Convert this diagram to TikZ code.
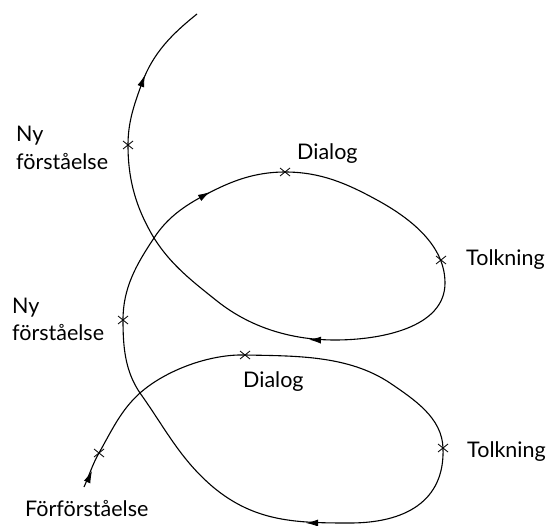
\documentclass[tikz,border=0pt]{standalone}
\usepackage{fontspec}
\setmainfont{Lato}
\usetikzlibrary{arrows.meta}
\begin{document}
\begin{tikzpicture}[x=1pt,y=-1pt,
  curve/.style={line width=1.1pt, line join=round},
  arr/.style={line width=0.8pt, -{Latex[length=12pt,width=7pt]}},
  lbl/.style={font=\fontsize{21.5}{26}\selectfont, inner sep=0pt, anchor=base west},
  xm/.pic={\draw[line width=0.8pt] (-5,-4)--(5,4) (-5,4)--(5,-4);}]
\useasboundingbox (0,0) rectangle (551,526);
% knots of the spiral
\coordinate (k0) at (84,487);
\coordinate (xa) at (99,453);
\coordinate (c1) at (140,393);
\coordinate (xd1) at (245,355);
\coordinate (k4) at (390,383);
\coordinate (xt1) at (443,448);
\coordinate (b1) at (350,523);
\coordinate (k7) at (213,487);
\coordinate (xn1) at (123,320);
\coordinate (c2) at (154,238);
\coordinate (k11) at (205,195);
\coordinate (xd2) at (285,172);
\coordinate (k13) at (377,200);
\coordinate (r2) at (445,283);
\coordinate (b2) at (335,340);
\coordinate (k16) at (217,301);
\coordinate (xn2) at (128,145);
\coordinate (k19) at (142,83);
\coordinate (k20) at (197,14);
\coordinate (xt2) at (441,260);
% spiral
\draw[curve] (k0) .. controls (89,476) and (93,463) .. (xa)
  .. controls (112,430) and (121,410) .. (c1)
  .. controls (166,370) and (210,354) .. (xd1)
  .. controls (295,356) and (348,355) .. (k4)
  .. controls (415,400) and (442,418) .. (xt1)
  .. controls (445,502) and (404,523) .. (b1)
  .. controls (296,523) and (255,522) .. (k7)
  .. controls (180,459) and (165,428) .. (c1)
  .. controls (125,371) and (123,347) .. (xn1)
  .. controls (123,288) and (136,265) .. (c2)
  .. controls (167,218) and (184,206) .. (k11)
  .. controls (231,181) and (255,172) .. (xd2)
  .. controls (320,172) and (346,183) .. (k13)
  .. controls (410,218) and (445,245) .. (r2)
  .. controls (445,328) and (380,340) .. (b2)
  .. controls (292,340) and (251,328) .. (k16)
  .. controls (192,281) and (171,265) .. (c2)
  .. controls (136,208) and (128,180) .. (xn2)
  .. controls (128,122) and (134,105) .. (k19)
  .. controls (153,53) and (172,34) .. (k20);
% arrowheads
\draw[arr] (88,480) -- (92,471);
\draw[arr] (203,196) -- (210,192);
\draw[arr] (318,340) -- (309,339.6);
\draw[arr] (316,523) -- (306,523);
\draw[arr] (k19) -- (145,75);
% marks
\foreach \p in {xa,xd1,xt1,xn1,xd2,xt2,xn2} \pic at (\p) {xm};
% labels
\node[lbl] (ny2a) at (16,142) {Ny};
\node[lbl] (ny2b) at (16,170) {förståelse};
\node[lbl] (ny1a) at (12,313) {Ny};
\node[lbl] (ny1b) at (12,341) {förståelse};
\node[lbl] (ff) at (25,516) {Förförståelse};
\node[lbl] (d2) at (297,160) {Dialog};
\node[lbl] (d1) at (243,387) {Dialog};
\node[lbl] (t2) at (466,266) {Tolkning};
\node[lbl] (t1) at (467,457) {Tolkning};
\end{tikzpicture}
\end{document}
